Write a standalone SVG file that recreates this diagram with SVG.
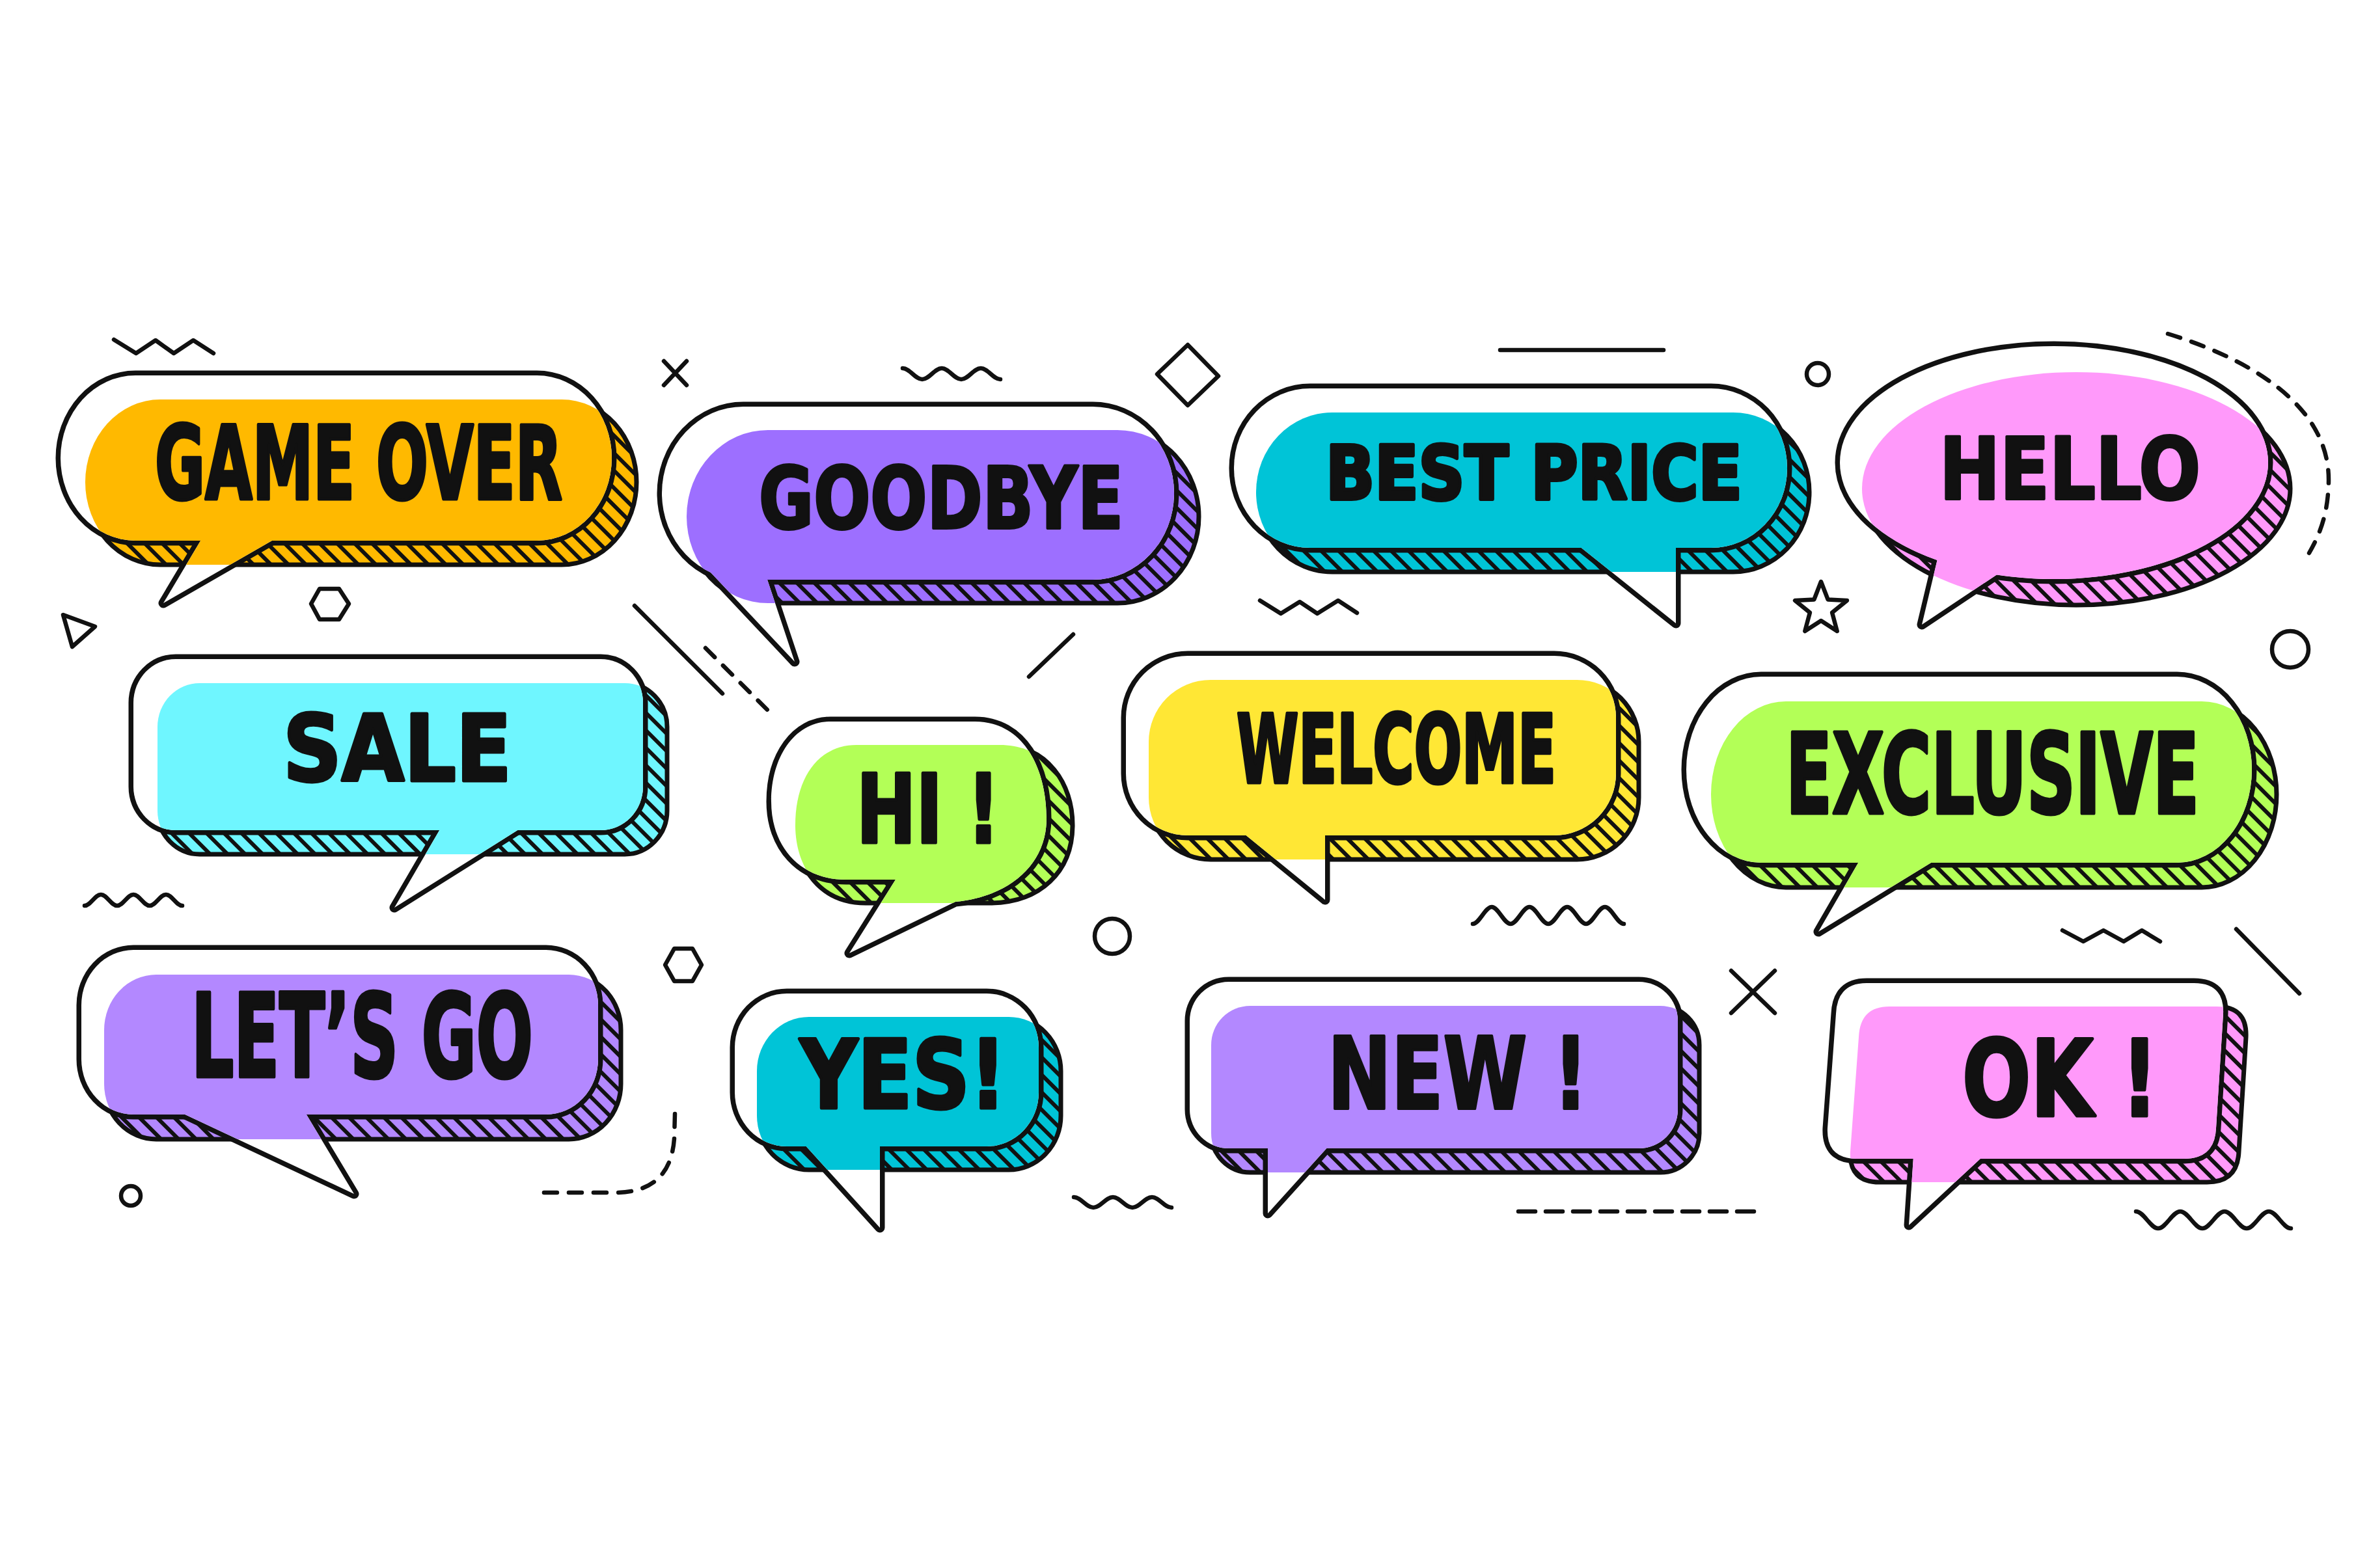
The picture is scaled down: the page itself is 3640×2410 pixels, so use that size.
<svg xmlns="http://www.w3.org/2000/svg" width="3640" height="2410" viewBox="0 0 3640 2410">
<style>
.hatch{fill:url(#hatch);stroke:#111;stroke-width:7;stroke-linejoin:round}
.fo{fill:#fff;stroke:#111;stroke-width:15;stroke-linejoin:round}
.ff{fill:#fff;stroke:none}
.deco{fill:none;stroke:#111;stroke-width:6.5;stroke-linecap:round;stroke-linejoin:round}
.dash{fill:none;stroke:#111;stroke-width:6.5;stroke-linecap:round;stroke-dasharray:20 18}
.tc{font-family:"Liberation Sans Narrow","DejaVu Sans Condensed","Liberation Sans",sans-serif;font-weight:700;fill:#111;stroke:#111;stroke-width:4;stroke-linejoin:round}
.tw{font-family:"DejaVu Sans","Liberation Sans",sans-serif;font-weight:700;fill:#111;stroke:#111;stroke-width:5;stroke-linejoin:round}
</style>
<defs>
<pattern id="hatch" patternUnits="userSpaceOnUse" width="19" height="19" patternTransform="rotate(-45)"><rect x="0" y="0" width="6" height="19" fill="#111"/></pattern>
<rect id="f1" x="93" y="577" width="847" height="254" rx="115" ry="127"/>
<polygon id="t1" points="310,828 251,927 423,828"/>
<rect id="f2" x="1017" y="625" width="787" height="266" rx="125" ry="133"/>
<polygon id="t2" points="1047,832 1221,1017 1178,888"/>
<rect id="f3" x="1896" y="597" width="850" height="245" rx="117" ry="122"/>
<polygon id="t3" points="2426,839 2575,958 2575,839"/>
<ellipse id="f4" cx="3156" cy="711" rx="329" ry="179"/>
<polygon id="t4" points="2978,855 2953,960 3073,880"/>
<rect id="f5" x="205" y="1013" width="783" height="263" rx="65" ry="67"/>
<polygon id="t5" points="677,1273 606,1395 800,1273"/>
<path id="f6" d="M1276,1109 H1498 C1572,1109 1608,1180 1608,1258 C1608,1330 1550,1378 1468,1386 L1305,1465 L1376,1352 H1300 C1228,1352 1185,1300 1185,1232 C1185,1162 1222,1109 1276,1109 Z"/>
<path id="b6" d="M1316,1145 H1536 C1610,1145 1648,1205 1648,1268 C1648,1340 1598,1388 1520,1388 H1330 C1262,1388 1222,1336 1222,1268 C1222,1195 1258,1145 1316,1145 Z"/>
<rect id="f7" x="1730" y="1008" width="753" height="276" rx="95" ry="95"/>
<polygon id="t7" points="1911,1281 2036,1383 2036,1281"/>
<rect id="f8" x="2591" y="1040" width="869" height="286" rx="115" ry="143"/>
<polygon id="t8" points="2857,1323 2794,1432 2972,1323"/>
<rect id="f9" x="125" y="1460" width="794" height="253" rx="80" ry="85"/>
<polygon id="t9" points="278,1710 544,1835 469,1710"/>
<rect id="f10" x="1129" y="1527" width="467" height="235" rx="80" ry="83"/>
<polygon id="t10" points="1236,1759 1352,1887 1352,1759"/>
<rect id="f11" x="1828" y="1509" width="750" height="256" rx="60" ry="60"/>
<polygon id="t11" points="1948,1762 1948,1865 2041,1762"/>
<path id="f12" d="M2868,1511 H3371 Q3418,1511 3416,1558 L3405,1734 Q3403,1781 3356,1781 H2853 Q2806,1781 2808,1734 L2821,1558 Q2823,1511 2868,1511 Z"/>
<polygon id="t12" points="2940,1778 2933,1883 3046,1778"/>
<clipPath id="c1"><use href="#f1"/><use href="#t1"/></clipPath>
<clipPath id="c2"><use href="#f2"/><use href="#t2"/></clipPath>
<clipPath id="c3"><use href="#f3"/><use href="#t3"/></clipPath>
<clipPath id="c4"><use href="#f4"/><use href="#t4"/></clipPath>
<clipPath id="c5"><use href="#f5"/><use href="#t5"/></clipPath>
<clipPath id="c6"><use href="#f6"/></clipPath>
<clipPath id="c7"><use href="#f7"/><use href="#t7"/></clipPath>
<clipPath id="c8"><use href="#f8"/><use href="#t8"/></clipPath>
<clipPath id="c9"><use href="#f9"/><use href="#t9"/></clipPath>
<clipPath id="c10"><use href="#f10"/><use href="#t10"/></clipPath>
<clipPath id="c11"><use href="#f11"/><use href="#t11"/></clipPath>
<clipPath id="c12"><use href="#f12"/><use href="#t12"/></clipPath>
</defs>
<rect x="0" y="0" width="3640" height="2410" fill="#fff"/>

<g id="decorations">
<polyline class="deco" points="175,522 209,543 239,523 267,543 297,523 328,543"/>
<path class="deco" d="M1020,555 L1055,592 M1055,555 L1020,592"/>
<path class="deco" d="M1387,566 c11,0 19,17 30,17 s19,-17 30,-17 s19,17 30,17 s19,-17 30,-17 s19,17 30,17"/>
<polygon class="deco" points="1825,530 1872,578 1825,623 1778,575"/>
<line class="deco" x1="2305" y1="538" x2="2556" y2="538"/>
<circle class="deco" cx="2793" cy="575" r="17"/>
<path class="dash" d="M3331,513 C3450,550 3580,620 3578,740 C3577,790 3565,820 3548,850"/>
<polygon class="deco" points="491,905 521,905 536,928 521,952 491,952 478,928"/>
<polygon class="deco" points="97,945 146,963 111,994"/>
<line class="deco" x1="975" y1="931" x2="1110" y2="1066"/>
<line class="dash" x1="1084" y1="996" x2="1180" y2="1092"/>
<line class="deco" x1="1581" y1="1040" x2="1649" y2="975"/>
<polyline class="deco" points="1936,923 1968,943 1997,925 2024,943 2056,923 2085,942"/>
<polygon class="deco" points="2798,894 2808.6,921.4 2837.9,923 2815.1,941.6 2822.7,970 2798,954 2773.3,970 2780.9,941.6 2758.1,923 2787.4,921.4"/>
<circle class="deco" cx="3519" cy="998" r="28"/>
<path class="deco" d="M130,1392 c9,0 16,-17 25,-17 s16,17 25,17 s16,-17 25,-17 s16,17 25,17 s16,-17 25,-17 s16,17 25,17"/>
<circle class="deco" cx="1709" cy="1439" r="27"/>
<polygon class="deco" points="1036,1458 1064,1458 1078,1483 1064,1508 1036,1508 1022,1483"/>
<path class="deco" d="M2263,1420 c10,0 19,-26 29,-26 s19,26 29,26 s19,-26 29,-26 s19,26 29,26 s19,-26 29,-26 s19,26 29,26 s19,-26 29,-26 s19,26 29,26"/>
<polyline class="deco" points="3169,1430 3201,1447 3232,1430 3263,1447 3291,1430 3319,1447"/>
<line class="deco" x1="3436" y1="1428" x2="3533" y2="1527"/>
<path class="deco" d="M2660,1492 L2727,1557 M2727,1492 L2660,1557"/>
<path class="dash" d="M1037,1712 L1036,1750 Q1030,1833 945,1833 L834,1833"/>
<circle class="deco" cx="201" cy="1838" r="15"/>
<path class="deco" d="M1650,1840 c11,0 19,16 30,16 s19,-16 30,-16 s19,16 30,16 s19,-16 30,-16 s19,16 30,16"/>
<line class="dash" x1="2333" y1="1862" x2="2711" y2="1862" style="stroke-dasharray:26 16"/>
<path class="deco" d="M3282,1862 c12,0 22,26 34,26 s22,-26 34,-26 s22,26 34,26 s22,-26 34,-26 s22,26 34,26 s22,-26 34,-26 s22,26 34,26"/>
</g>

<g id="bubble-game-over">
<use href="#f1" x="38" y="37" fill="#FFB900"/><use href="#f1" x="38" y="37" class="hatch"/>
<g class="fo"><use href="#f1"/><use href="#t1"/></g><g class="ff"><use href="#f1"/><use href="#t1"/></g>
<g clip-path="url(#c1)"><use href="#f1" x="38" y="37" fill="#FFB900"/></g>
<text class="tc" transform="translate(238,767) scale(1,1.26)" font-size="125" textLength="626" lengthAdjust="spacingAndGlyphs">GAME OVER</text>
</g>

<g id="bubble-goodbye">
<use href="#f2" x="38" y="36" fill="#9D6FFF"/><use href="#f2" x="38" y="36" class="hatch"/>
<g class="fo"><use href="#f2"/><use href="#t2"/></g><g class="ff"><use href="#f2"/><use href="#t2"/></g>
<g clip-path="url(#c2)"><use href="#f2" x="38" y="36" fill="#9D6FFF"/></g>
<text class="tc" x="1166" y="812" font-size="131" textLength="560" lengthAdjust="spacingAndGlyphs">GOODBYE</text>
</g>

<g id="bubble-best-price">
<use href="#f3" x="34" y="37" fill="#00C4D7"/><use href="#f3" x="34" y="37" class="hatch"/>
<g class="fo"><use href="#f3"/><use href="#t3"/></g><g class="ff"><use href="#f3"/><use href="#t3"/></g>
<g clip-path="url(#c3)"><use href="#f3" x="34" y="37" fill="#00C4D7"/></g>
<text class="tw" transform="translate(2037,767) scale(1,1.17)" font-size="98" textLength="640" lengthAdjust="spacingAndGlyphs">BEST PRICE</text>
</g>

<g id="bubble-hello">
<use href="#f4" x="34" y="40" fill="#FF99FA"/><use href="#f4" x="34" y="40" class="hatch"/>
<g class="fo"><use href="#f4"/><use href="#t4"/></g><g class="ff"><use href="#f4"/><use href="#t4"/></g>
<g clip-path="url(#c4)"><use href="#f4" x="34" y="40" fill="#FF99FA"/></g>
<text class="tc" x="2980" y="767" font-size="131" textLength="401" lengthAdjust="spacingAndGlyphs">HELLO</text>
</g>

<g id="bubble-sale">
<use href="#f5" x="37" y="37" fill="#6FF6FF"/><use href="#f5" x="37" y="37" class="hatch"/>
<g class="fo"><use href="#f5"/><use href="#t5"/></g><g class="ff"><use href="#f5"/><use href="#t5"/></g>
<g clip-path="url(#c5)"><use href="#f5" x="37" y="37" fill="#6FF6FF"/></g>
<text class="tw" x="435" y="1200" font-size="140" textLength="351" lengthAdjust="spacingAndGlyphs">SALE</text>
</g>

<g id="bubble-hi">
<use href="#b6" fill="#B3FF57"/><use href="#b6" class="hatch"/>
<g class="fo"><use href="#f6"/></g><g class="ff"><use href="#f6"/></g>
<g clip-path="url(#c6)"><use href="#b6" fill="#B3FF57"/></g>
<text class="tw" x="1316" y="1295" font-size="147" textLength="220" lengthAdjust="spacingAndGlyphs">HI !</text>
</g>

<g id="bubble-welcome">
<use href="#f7" x="35" y="37" fill="#FFE735"/><use href="#f7" x="35" y="37" class="hatch"/>
<g class="fo"><use href="#f7"/><use href="#t7"/></g><g class="ff"><use href="#f7"/><use href="#t7"/></g>
<g clip-path="url(#c7)"><use href="#f7" x="35" y="37" fill="#FFE735"/></g>
<text class="tc" transform="translate(1900,1203) scale(1,1.27)" font-size="115" textLength="491" lengthAdjust="spacingAndGlyphs">WELCOME</text>
</g>

<g id="bubble-exclusive">
<use href="#f8" x="38" y="38" fill="#B3FF57"/><use href="#f8" x="38" y="38" class="hatch"/>
<g class="fo"><use href="#f8"/><use href="#t8"/></g><g class="ff"><use href="#f8"/><use href="#t8"/></g>
<g clip-path="url(#c8)"><use href="#f8" x="38" y="38" fill="#B3FF57"/></g>
<text class="tc" transform="translate(2744,1250) scale(1,1.25)" font-size="137" textLength="635" lengthAdjust="spacingAndGlyphs">EXCLUSIVE</text>
</g>

<g id="bubble-lets-go">
<use href="#f9" x="35" y="38" fill="#B388FF"/><use href="#f9" x="35" y="38" class="hatch"/>
<g class="fo"><use href="#f9"/><use href="#t9"/></g><g class="ff"><use href="#f9"/><use href="#t9"/></g>
<g clip-path="url(#c9)"><use href="#f9" x="35" y="38" fill="#B388FF"/></g>
<text class="tc" transform="translate(294,1655) scale(1,1.3)" font-size="137" textLength="525" lengthAdjust="spacingAndGlyphs">LET’S GO</text>
</g>

<g id="bubble-yes">
<use href="#f10" x="34" y="36" fill="#00C4D7"/><use href="#f10" x="34" y="36" class="hatch"/>
<g class="fo"><use href="#f10"/><use href="#t10"/></g><g class="ff"><use href="#f10"/><use href="#t10"/></g>
<g clip-path="url(#c10)"><use href="#f10" x="34" y="36" fill="#00C4D7"/></g>
<text class="tw" x="1229" y="1703" font-size="146" textLength="317" lengthAdjust="spacingAndGlyphs">YES!</text>
</g>

<g id="bubble-new">
<use href="#f11" x="33" y="37" fill="#B388FF"/><use href="#f11" x="33" y="37" class="hatch"/>
<g class="fo"><use href="#f11"/><use href="#t11"/></g><g class="ff"><use href="#f11"/><use href="#t11"/></g>
<g clip-path="url(#c11)"><use href="#f11" x="33" y="37" fill="#B388FF"/></g>
<text class="tc" x="2040" y="1704" font-size="154" textLength="400" lengthAdjust="spacingAndGlyphs">NEW !</text>
</g>

<g id="bubble-ok">
<use href="#f12" x="35" y="36" fill="#FF99FA"/><use href="#f12" x="35" y="36" class="hatch"/>
<g class="fo"><use href="#f12"/><use href="#t12"/></g><g class="ff"><use href="#f12"/><use href="#t12"/></g>
<g clip-path="url(#c12)"><use href="#f12" x="35" y="36" fill="#FF99FA"/></g>
<text class="tw" x="3015" y="1715" font-size="162" textLength="301" lengthAdjust="spacingAndGlyphs">OK !</text>
</g>
</svg>
